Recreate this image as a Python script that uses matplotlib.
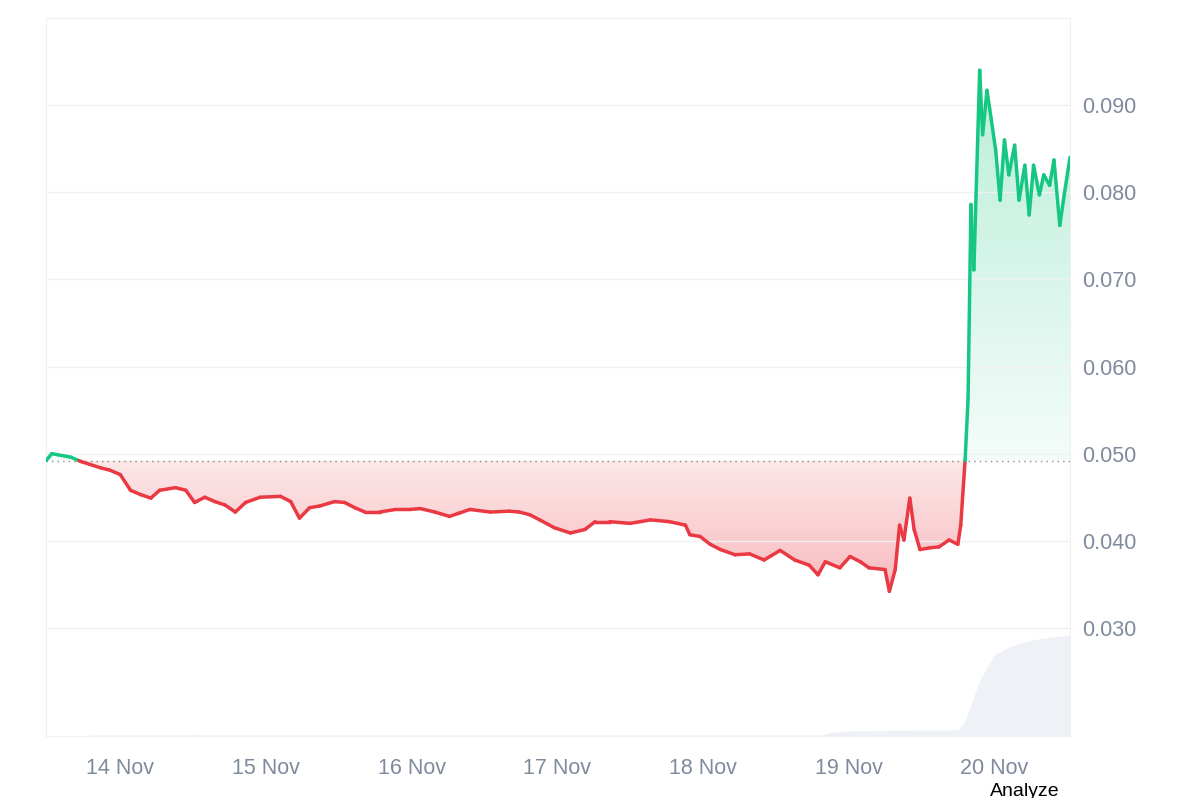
import numpy as np
import matplotlib
matplotlib.use("Agg")
import matplotlib.pyplot as plt
from matplotlib.collections import LineCollection
from matplotlib.colors import LinearSegmentedColormap
from matplotlib.path import Path
plt.rcParams['font.family'] = ['Liberation Sans', 'DejaVu Sans']

days = [-0.51,-0.47,-0.34,-0.27,-0.14,-0.07,0,.07,.14,.21,.27,.38,.45,.51,.58,.65,.72,.79,.86,.96,1.10,1.17,1.23,1.30,1.37,1.47,1.54,1.61,1.68,1.78,1.89,1.99,2.06,2.16,2.26,2.33,2.40,2.54,2.67,2.74,2.81,2.88,2.98,3.09,3.19,3.26,3.36,3.50,3.64,3.77,3.88,3.91,3.98,4.05,4.12,4.22,4.32,4.42,4.53,4.63,4.73,4.79,4.84,4.94,5.01,5.08,5.14,5.25,5.28,5.32,5.35,5.38,5.42,5.45,5.49,5.56,5.62,5.69,5.75,5.77,5.80,5.82,5.84,5.86,5.90,5.92,5.95,5.98,6.01,6.04,6.07,6.10,6.14,6.17,6.21,6.24,6.27,6.31,6.34,6.38,6.41,6.45,6.48,6.52]
price = [.0492,.0500,.0496,.0491,.0484,.0481,.0476,.0458,.0453,.0449,.0458,.0461,.0458,.0444,.0450,.0445,.0441,.0433,.0444,.0450,.0451,.0445,.0426,.0438,.0440,.0445,.0444,.0438,.0433,.0433,.0436,.0436,.0437,.0433,.0428,.0432,.0436,.0433,.0434,.0433,.0430,.0424,.0415,.0409,.0413,.0422,.0422,.0420,.0424,.0422,.0418,.0407,.0405,.0396,.0390,.0384,.0385,.0378,.0389,.0378,.0372,.0361,.0376,.0369,.0382,.0376,.0369,.0367,.0342,.0367,.0418,.0401,.0449,.0413,.0390,.0392,.0393,.0401,.0396,.0418,.0493,.0562,.0786,.0711,.0940,.0866,.0917,.0883,.0848,.0791,.0860,.0820,.0854,.0791,.0831,.0774,.0831,.0797,.0820,.0808,.0837,.0762,.0797,.0840]
baseline = 0.0492
vol_days = [-0.51,-0.25,-0.2,0.5,0.5,0.55,4.8,4.9,5.0,5.5,5.75,5.8,5.9,6.0,6.1,6.2,6.3,6.52]
vol = [0,0,0.01,0.01,0.015,0.01,0.01,0.04,0.05,0.06,0.06,0.15,0.55,0.8,0.88,0.93,0.96,1.0]
yticks = [0.030,0.040,0.050,0.060,0.070,0.080,0.090]
xlabels = ["14 Nov","15 Nov","16 Nov","17 Nov","18 Nov","19 Nov","20 Nov"]

x = np.array(days); y = np.array(price)
fig = plt.figure(figsize=(11.98,7.98), dpi=100)
ax = fig.add_axes([46/1198, 1-736/798, 1024/1198, 718/798])
ymin, ymax = 0.0176, 0.1000
ax.set_xlim(x[0], x[-1]); ax.set_ylim(ymin, ymax)

axv = ax.twinx(); axv.set_ylim(0, 7.1); axv.set_yticks([])
axv.fill_between(vol_days, vol, color="#eef1f5", lw=0, zorder=0)
axv.set_zorder(0); ax.set_zorder(1); ax.patch.set_visible(False)
for s in axv.spines.values(): s.set_visible(False)

for above, lo, hi in [(True, baseline, 0.094), (False, 0.034, baseline)]:
    if above:
        poly = ax.fill_between(x, y, baseline, where=y >= baseline, interpolate=True, color="none")
        cm = LinearSegmentedColormap.from_list("g", [(0.086,0.78,0.52,0.05),(0.086,0.78,0.52,0.30)])
    else:
        poly = ax.fill_between(x, y, baseline, where=y <= baseline, interpolate=True, color="none")
        cm = LinearSegmentedColormap.from_list("r", [(0.92,0.22,0.26,0.35),(0.92,0.22,0.26,0.12)])
    grad = np.linspace(0, 1, 256).reshape(-1, 1)
    im = ax.imshow(grad, extent=[x[0], x[-1], lo, hi], origin="lower", aspect="auto", cmap=cm, zorder=1)
    paths = poly.get_paths()
    if paths:
        verts = np.concatenate([p.vertices for p in paths]); codes = np.concatenate([p.codes for p in paths])
        im.set_clip_path(Path(verts, codes), transform=ax.transData)

segs, cols = [], []
for i in range(len(x)-1):
    x0,y0,x1,y1 = x[i],y[i],x[i+1],y[i+1]
    if (y0-baseline)*(y1-baseline) < 0:
        xc = x0 + (baseline-y0)/(y1-y0)*(x1-x0)
        segs += [[(x0,y0),(xc,baseline)],[(xc,baseline),(x1,y1)]]
        cols += ["#16c784" if y0>baseline else "#ea3943", "#16c784" if y1>baseline else "#ea3943"]
    else:
        segs.append([(x0,y0),(x1,y1)])
        cols.append("#16c784" if (y0+y1)/2 >= baseline else "#ea3943")
ax.add_collection(LineCollection(segs, colors=cols, lw=2.5, zorder=3, capstyle="round", joinstyle="round"))
ax.axhline(baseline, color="#888", ls=(0,(1,3)), lw=1, zorder=2)

ax.yaxis.tick_right()
ax.set_yticks(yticks); ax.set_yticklabels([f"{v:.3f}" for v in yticks])
ax.set_xticks(range(7)); ax.set_xticklabels(xlabels)
ax.tick_params(length=0, labelsize=15.5, colors="#808a9d")
ax.tick_params(axis="y", pad=9)
ax.tick_params(axis="x", pad=16)
ax.grid(axis="y", color="#eef0f3", lw=1)
for s in ax.spines.values(): s.set_color("#eef0f3")
fig.text(1025/1198, 1-791/798, "Analyze", ha="center", va="center", fontsize=14, color="black")
fig.savefig("out.png", dpi=100)
